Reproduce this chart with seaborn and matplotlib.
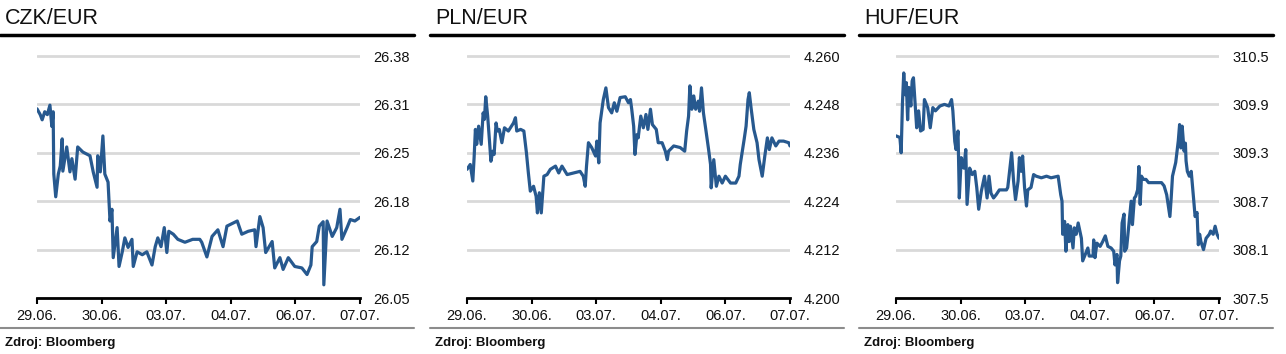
import numpy as np
import pandas as pd
import matplotlib
matplotlib.use('Agg')
import matplotlib.pyplot as plt
from matplotlib.lines import Line2D
import seaborn as sns

# x tick labels (trading days), x values below are in "day index" units
days = ['29.06.', '30.06.', '03.07.', '04.07.', '06.07.', '07.07.']

# CZK/EUR
czk_x = [0.00, 0.05, 0.08, 0.12, 0.16, 0.20, 0.23, 0.25, 0.26, 0.29, 0.33, 0.36, 0.39, 0.40,
         0.46, 0.51, 0.54, 0.59, 0.63, 0.71, 0.82, 0.87, 0.93, 0.94, 0.98, 1.02, 1.05, 1.10,
         1.13, 1.16, 1.18, 1.24, 1.27, 1.32, 1.36, 1.41, 1.47, 1.49, 1.55, 1.63, 1.70, 1.78,
         1.83, 1.87, 1.92, 1.97, 2.01, 2.04, 2.11, 2.18, 2.29, 2.41, 2.52, 2.55, 2.63, 2.71,
         2.80, 2.88, 2.94, 3.10, 3.17, 3.27, 3.37, 3.39, 3.45, 3.50, 3.54, 3.64, 3.68, 3.76,
         3.81, 3.89, 3.99, 4.10, 4.18, 4.24, 4.26, 4.33, 4.37, 4.43, 4.44, 4.49, 4.57, 4.64,
         4.69, 4.72, 4.80, 4.85, 4.92, 5.00]
czk_y = [26.308, 26.300, 26.293, 26.304, 26.300, 26.313, 26.284, 26.304, 26.219, 26.188,
         26.219, 26.230, 26.267, 26.223, 26.256, 26.222, 26.240, 26.212, 26.256, 26.249,
         26.244, 26.222, 26.201, 26.244, 26.222, 26.271, 26.219, 26.208, 26.155, 26.171,
         26.105, 26.146, 26.093, 26.113, 26.132, 26.119, 26.130, 26.093, 26.113, 26.109,
         26.113, 26.095, 26.120, 26.132, 26.120, 26.146, 26.112, 26.141, 26.137, 26.130,
         26.126, 26.130, 26.130, 26.126, 26.106, 26.134, 26.143, 26.120, 26.148, 26.155,
         26.137, 26.141, 26.143, 26.120, 26.161, 26.146, 26.112, 26.127, 26.091, 26.105,
         26.089, 26.105, 26.093, 26.091, 26.082, 26.095, 26.120, 26.127, 26.148, 26.154,
         26.068, 26.155, 26.134, 26.146, 26.171, 26.130, 26.146, 26.157, 26.155, 26.160]

# PLN/EUR
pln_x = [0.00, 0.05, 0.09, 0.11, 0.13, 0.15, 0.18, 0.22, 0.25, 0.27, 0.29, 0.32, 0.35, 0.37,
         0.40, 0.42, 0.45, 0.47, 0.50, 0.54, 0.58, 0.64, 0.72, 0.75, 0.77, 0.83, 0.88, 0.92,
         0.95, 0.98, 1.03, 1.07, 1.09, 1.12, 1.15, 1.19, 1.24, 1.29, 1.37, 1.42, 1.47, 1.55,
         1.65, 1.75, 1.80, 1.83, 1.85, 1.88, 1.93, 1.99, 2.01, 2.04, 2.06, 2.11, 2.15, 2.19,
         2.24, 2.28, 2.32, 2.37, 2.45, 2.50,
         2.53, 2.55, 2.58, 2.60, 2.63, 2.65, 2.69, 2.73, 2.77, 2.80, 2.84, 2.87, 2.93, 2.96,
         3.02, 3.07, 3.10, 3.12, 3.20, 3.30, 3.37, 3.40, 3.43, 3.45, 3.48, 3.51, 3.54, 3.58,
         3.60, 3.63, 3.66, 3.70, 3.74, 3.77, 3.78, 3.82, 3.86, 3.90, 3.95, 4.00, 4.08, 4.16,
         4.21, 4.23, 4.29, 4.32, 4.35, 4.37, 4.40, 4.44, 4.49, 4.52, 4.57, 4.61, 4.65, 4.68,
         4.72, 4.78, 4.83, 4.90, 4.98, 5.00]
pln_y = [4.2319, 4.2331, 4.2290, 4.2348, 4.2418, 4.2381, 4.2426, 4.2381, 4.2459, 4.2443,
         4.2499, 4.2451, 4.2385, 4.2339, 4.2364, 4.2356, 4.2434, 4.2414, 4.2418, 4.2385,
         4.2422, 4.2414, 4.2434, 4.2447, 4.2414, 4.2418, 4.2414, 4.2360, 4.2310, 4.2265,
         4.2277, 4.2252, 4.2211, 4.2261, 4.2211, 4.2302, 4.2306, 4.2319, 4.2327, 4.2310,
         4.2327, 4.2306, 4.2310, 4.2314, 4.2302, 4.2277, 4.2327, 4.2385, 4.2373, 4.2352,
         4.2389, 4.2335, 4.2434, 4.2492, 4.2521, 4.2472, 4.2459, 4.2484, 4.2463, 4.2497,
         4.2499, 4.2484,
         4.2492, 4.2468, 4.2426, 4.2356, 4.2405, 4.2397, 4.2451, 4.2422, 4.2455, 4.2418,
         4.2468, 4.2430, 4.2418, 4.2385, 4.2385, 4.2364, 4.2343, 4.2364, 4.2377, 4.2373,
         4.2364, 4.2414, 4.2451, 4.2526, 4.2468, 4.2501, 4.2468, 4.2488, 4.2463, 4.2521,
         4.2459, 4.2414, 4.2368, 4.2331, 4.2273, 4.2343, 4.2277, 4.2302, 4.2285, 4.2302,
         4.2285, 4.2285, 4.2302, 4.2331, 4.2393, 4.2426, 4.2492, 4.2509, 4.2468, 4.2418,
         4.2385, 4.2343, 4.2302, 4.2352, 4.2397, 4.2368, 4.2397, 4.2377, 4.2389, 4.2389,
         4.2385, 4.2377]

# HUF/EUR
huf_x = [0.00, 0.06, 0.08, 0.10, 0.12, 0.14, 0.16, 0.18, 0.20, 0.23, 0.25, 0.27, 0.29, 0.32,
         0.35, 0.38, 0.42, 0.44, 0.49, 0.53, 0.57, 0.61, 0.68, 0.75, 0.82, 0.86, 0.88, 0.91,
         0.93, 0.96, 0.98, 1.01, 1.05, 1.08, 1.10, 1.14, 1.18, 1.22, 1.25, 1.28, 1.32, 1.37,
         1.41, 1.44, 1.47, 1.51, 1.55, 1.60, 1.71, 1.73, 1.77, 1.79, 1.82, 1.85, 1.89, 1.91,
         1.94, 1.96, 1.99, 2.02, 2.04, 2.09, 2.13, 2.17, 2.25, 2.33, 2.40,
         2.51, 2.55, 2.57, 2.58, 2.61, 2.63, 2.66, 2.68, 2.70, 2.74, 2.76, 2.79, 2.82, 2.87,
         2.89, 2.93, 2.97, 2.99, 3.05, 3.06, 3.08, 3.11, 3.16, 3.20, 3.24, 3.28, 3.33, 3.37,
         3.39, 3.42, 3.43, 3.46, 3.48, 3.50, 3.53, 3.54, 3.57, 3.61, 3.64, 3.66, 3.69, 3.71,
         3.74, 3.76, 3.78, 3.80, 3.83, 3.87, 3.91, 4.00, 4.11, 4.15, 4.19, 4.24, 4.26, 4.28,
         4.33, 4.37, 4.39, 4.41, 4.43, 4.46, 4.48, 4.49, 4.51, 4.54, 4.57, 4.59, 4.61, 4.63,
         4.66, 4.68, 4.70, 4.72, 4.76, 4.80, 4.85, 4.87, 4.91, 4.94, 4.97, 5.00]
huf_y = [309.51, 309.49, 309.30, 309.92, 310.29, 310.02, 310.17, 309.71, 310.11, 309.88,
         310.19, 310.23, 309.98, 309.61, 309.82, 309.57, 309.59, 309.96, 309.86, 309.61,
         309.86, 309.82, 309.88, 309.90, 309.88, 309.96, 309.82, 309.44, 309.34, 309.57,
         308.74, 309.24, 309.11, 309.34, 308.66, 309.11, 309.03, 309.07, 308.87, 308.60,
         308.82, 309.01, 308.74, 309.01, 308.80, 308.74, 308.78, 308.84, 308.84, 308.87,
         309.16, 309.30, 308.95, 308.72, 308.95, 309.24, 309.07, 309.26, 308.87, 308.64,
         308.84, 308.87, 309.03, 309.01, 308.99, 309.01, 308.99,
         309.01, 308.78, 308.70, 308.29, 308.45, 308.08, 308.41, 308.20, 308.39, 308.12,
         308.37, 308.29, 308.43, 308.24, 307.96, 308.04, 308.12, 308.02, 308.02, 308.22,
         308.00, 308.18, 308.14, 308.20, 308.27, 308.14, 308.12, 308.08, 307.91, 308.04,
         307.69, 307.96, 308.02, 308.43, 308.54, 308.08, 308.12, 308.45, 308.70, 308.41,
         308.74, 308.76, 308.84, 309.13, 308.66, 309.01, 308.97, 308.97, 308.93, 308.93,
         308.93, 308.89, 308.78, 308.51, 308.74, 309.01, 309.18, 309.45, 309.65, 309.36,
         309.63, 309.32, 309.42, 309.20, 309.07, 309.01, 309.07, 308.89, 308.70, 308.51,
         308.56, 308.16, 308.29, 308.20, 308.10, 308.24, 308.29, 308.33, 308.29, 308.39,
         308.29, 308.24]

czk_ticks = np.linspace(26.05, 26.38, 6)
pln_ticks = np.linspace(4.200, 4.260, 6)
huf_ticks = np.linspace(307.5, 310.5, 6)

LINE = '#27598f'
W, H = 1286, 354

sns.set_style('white')
plt.rcParams['font.family'] = ['Liberation Sans', 'DejaVu Sans']

fig = plt.figure(figsize=(W / 100, H / 100), dpi=100)

panels = [
    ('CZK/EUR', czk_x, czk_y, czk_ticks, '{:.2f}', 0),
    ('PLN/EUR', pln_x, pln_y, pln_ticks, '{:.3f}', 430),
    ('HUF/EUR', huf_x, huf_y, huf_ticks, '{:.1f}', 859),
]

for title, xs, ys, yt, fmt, off in panels:
    extra = 4  # px above top gridline so it is not clipped
    ax = fig.add_axes([(off + 37) / W, 1 - 298 / H, 323 / W, (242 + extra) / H])
    df = pd.DataFrame({'x': xs, 'y': ys})
    sns.lineplot(data=df, x='x', y='y', ax=ax, color=LINE, lw=2.3,
                 estimator=None, sort=False)
    span = yt[-1] - yt[0]
    ax.set_xlim(0, 5)
    ax.set_ylim(yt[0], yt[-1] + span * extra / 242)
    ax.set_yticks(yt)
    ax.set_yticklabels([fmt.format(v) for v in yt])
    ax.yaxis.tick_right()
    ax.tick_params(axis='y', length=0, pad=9.5, labelsize=10.5, labelcolor='#111111')
    ax.set_xticks(range(len(days)))
    ax.set_xticklabels(days)
    ax.tick_params(axis='x', length=4, width=1.5, direction='out', pad=4,
                   labelsize=10.5, color='black', labelcolor='#111111', bottom=True)
    ax.grid(axis='y', color='#d9d9d9', lw=2)
    ax.grid(axis='x', visible=False)
    ax.set_axisbelow(True)
    for s in ['top', 'left', 'right']:
        ax.spines[s].set_visible(False)
    ax.spines['bottom'].set_color('black')
    ax.spines['bottom'].set_linewidth(2)
    ax.set_xlabel('')
    ax.set_ylabel('')

    # header / footer decoration
    fig.text((off + 5) / W, 1 - 24 / H, title, fontsize=15.5, va='baseline', color='#111111')
    fig.add_artist(Line2D([off / W, (off + 414) / W], [1 - 35 / H] * 2, color='black', lw=2.5))
    fig.add_artist(Line2D([off / W, (off + 414) / W], [1 - 328 / H] * 2, color='#8c8c8c', lw=1.5))
    fig.text((off + 5) / W, 1 - 346 / H, 'Zdroj: Bloomberg', fontsize=9.5,
             fontweight='bold', va='baseline', color='#111111')

fig.savefig('out.png', dpi=100)
